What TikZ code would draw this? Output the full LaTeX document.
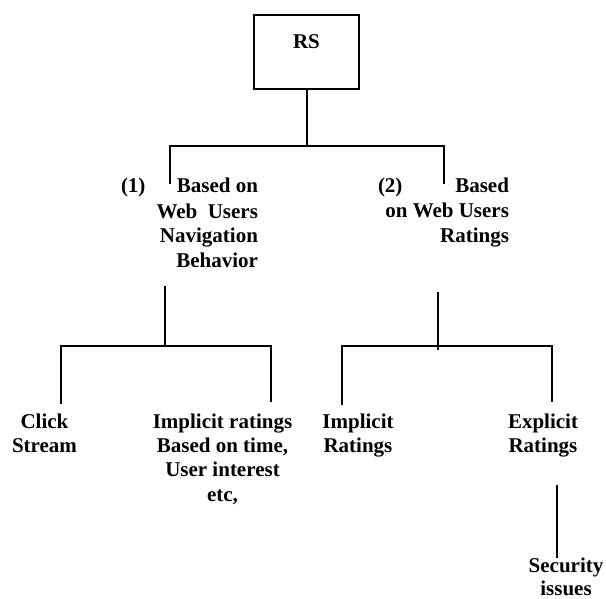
\documentclass[tikz,border=0pt]{standalone}
\usepackage{fontspec}
\setmainfont{Liberation Serif}
\begin{document}
\begin{tikzpicture}[x=1pt,y=-1pt,
  txt/.style={font=\bfseries\fontsize{21}{24.3}\selectfont, inner sep=0pt, outer sep=0pt},
  txtwide/.style={txt, font=\bfseries\fontsize{21}{25}\selectfont},
  txtnarrow/.style={txt, font=\bfseries\fontsize{21}{23}\selectfont},
  ln/.style={line width=2pt, line cap=rect},
  boxst/.style={draw, line width=2pt, minimum width=105pt, minimum height=74pt, inner sep=0pt}]
\useasboundingbox (0,0) rectangle (606,599);
% root box
\node[boxst] (rs) at (306.7,52.2) {};
\node[txt, anchor=base] (rstxt) at (306.5,48.5) {RS};
% level 1 texts (base anchor = last line)
\node[txt, anchor=base west] (n1) at (121,193) {(1)};
\node[txtwide, anchor=base east, align=right] (b1) at (258,268) {Based on\\Web\ \ Users\\Navigation\\Behavior};
\node[txt, anchor=base west] (n2) at (378,193) {(2)};
\node[txtwide, anchor=base east, align=right] (b2) at (509,243) {Based\\on Web Users\\Ratings};
% level 2 texts
\node[txt, anchor=base, align=center] (click) at (44.5,452.8) {Click\\Stream};
\node[txt, anchor=base, align=center] (implr) at (222.5,501) {Implicit ratings\\Based on time,\\User interest\\etc,};
\node[txt, anchor=base, align=center] (impl) at (358,452.8) {Implicit\\Ratings};
\node[txt, anchor=base, align=center] (expl) at (543,452.8) {Explicit\\Ratings};
\node[txtnarrow, anchor=base, align=center] (sec) at (566,595) {Security\\issues};
% junction coordinates
\coordinate (j0) at (306.7,146);
\coordinate (j1l) at (169.5,146);
\coordinate (j1r) at (443.5,146);
\coordinate (e1) at (169.5,183);
\coordinate (e2) at (443.5,183);
\coordinate (s1) at (164.5,287);
\coordinate (h1) at (164.5,345.5);
\coordinate (h1l) at (60.5,345.5);
\coordinate (h1r) at (270.5,345.5);
\coordinate (c1) at (60.5,403);
\coordinate (c2) at (270.5,401);
\coordinate (s2) at (438,293);
\coordinate (h2) at (438,349);
\coordinate (h2l) at (342,345.5);
\coordinate (h2r) at (552,345.5);
\coordinate (c3) at (342,404);
\coordinate (c4) at (552,401);
\coordinate (s3) at (557,486);
\coordinate (c5) at (557,557);
% connectors
\draw[ln] (rs.south) -- (j0);
\draw[ln] (e1) -- (j1l) -- (j1r) -- (e2);
\draw[ln] (s1) -- (h1);
\draw[ln] (c1) -- (h1l) -- (h1r) -- (c2);
\draw[ln] (s2) -- (h2);
\draw[ln] (c3) -- (h2l) -- (h2r) -- (c4);
\draw[ln] (s3) -- (c5);
\end{tikzpicture}
\end{document}
